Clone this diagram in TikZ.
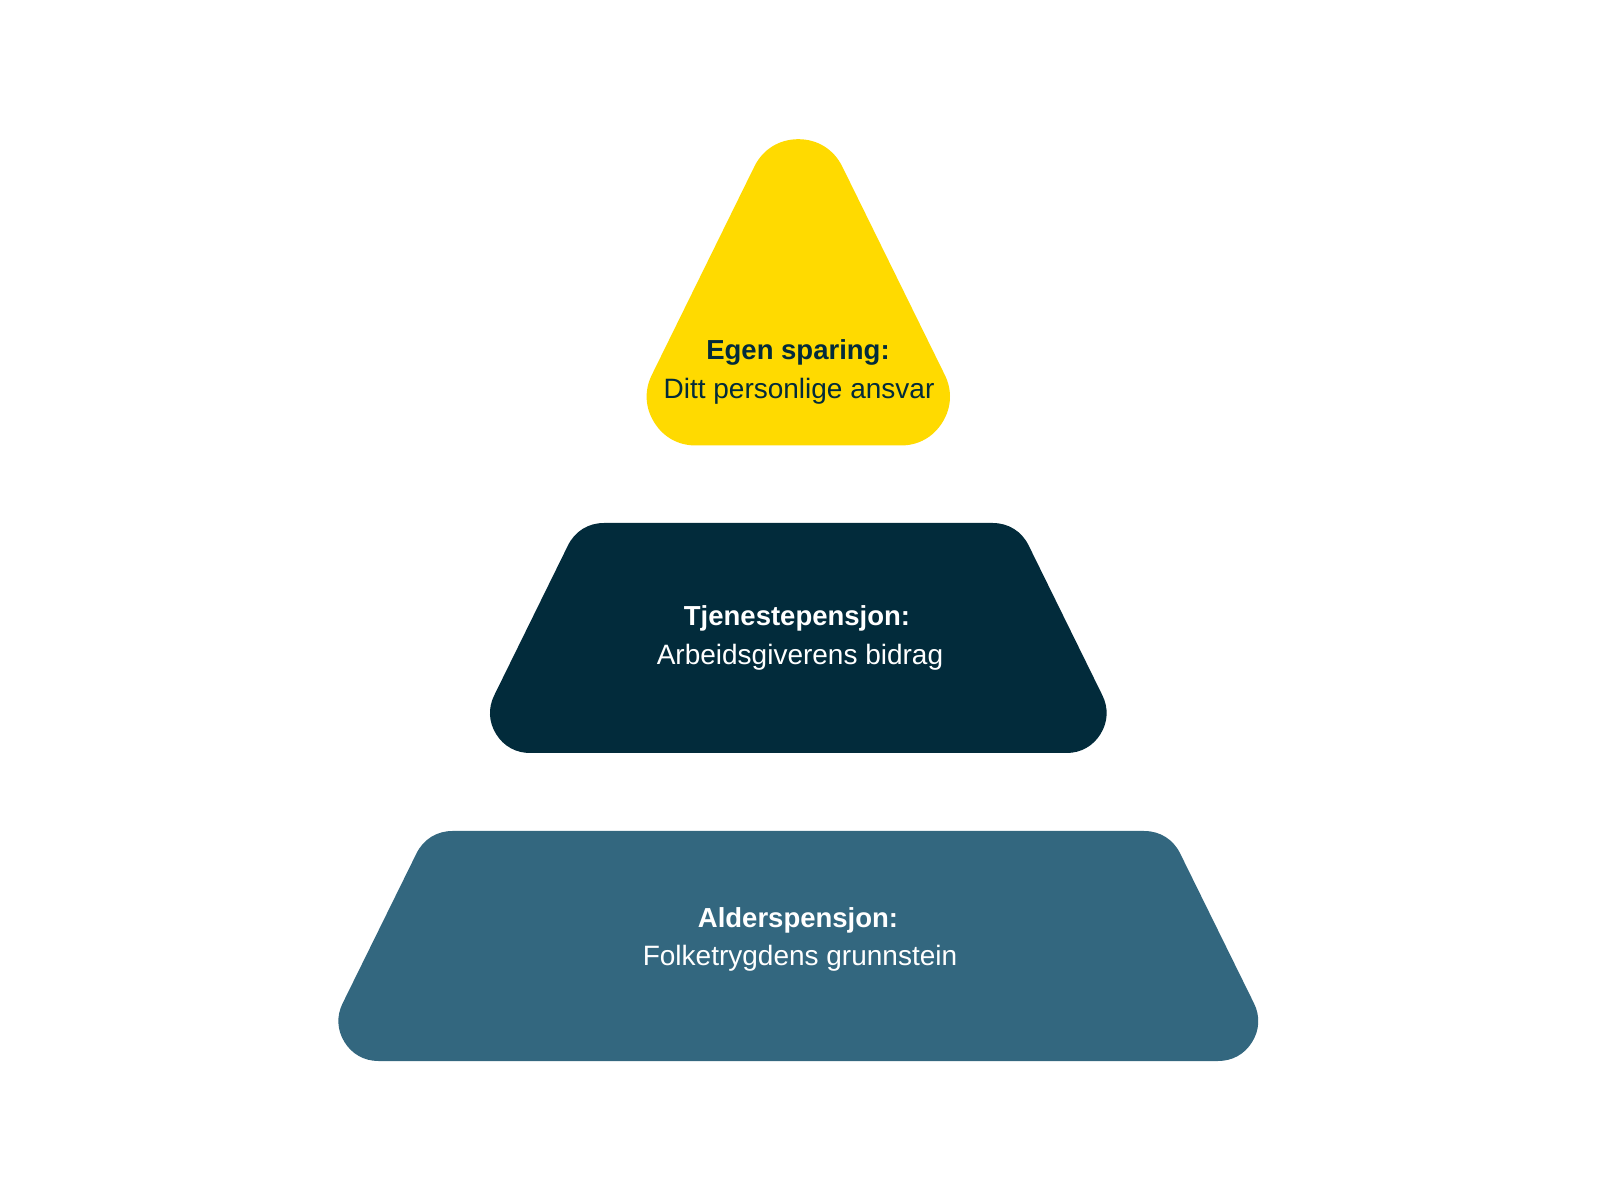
\documentclass[tikz,border=0pt]{standalone}
\usepackage{fontspec}
\setmainfont{Liberation Sans}
\definecolor{pyellow}{RGB}{255,218,0}
\definecolor{pnavy}{RGB}{2,43,59}
\definecolor{pblue}{RGB}{51,103,127}
\begin{document}
\begin{tikzpicture}[x=1pt,y=1pt,
  tier/.style={line join=round},
  ttl/.style={font=\fontsize{27.5}{33}\selectfont\bfseries, anchor=base, inner sep=0pt},
  sub/.style={font=\fontsize{28}{33}\selectfont, anchor=base, inner sep=0pt}]
\useasboundingbox (0,0) rectangle (1600,1200);
% top: yellow triangle (inner polygon grown by radius 49)
\filldraw[tier, fill=pyellow, draw=pyellow, line width=98pt]
  (798.3,1011.8) -- (900.8,803.5) -- (695.8,803.5) -- cycle;
% middle: navy trapezoid (radius 40)
\filldraw[tier, fill=pnavy, draw=pnavy, line width=80pt]
  (603.9,637) -- (992.7,637) -- (1066.5,487) -- (530.1,487) -- cycle;
% bottom: blue trapezoid (radius 40)
\filldraw[tier, fill=pblue, draw=pblue, line width=80pt]
  (452.4,329) -- (1144.2,329) -- (1218.1,179) -- (378.5,179) -- cycle;
% texts
\node[ttl, text=pnavy] (t1) at (798,840) {Egen sparing:};
\node[sub, text=pnavy] (s1) at (799,801) {Ditt personlige ansvar};
\node[ttl, text=white] (t2) at (797,574) {Tjenestepensjon:};
\node[sub, text=white] (s2) at (800,535) {Arbeidsgiverens bidrag};
\node[ttl, text=white] (t3) at (798,273) {Alderspensjon:};
\node[sub, text=white] (s3) at (800,234.5) {Folketrygdens grunnstein};
\end{tikzpicture}
\end{document}
